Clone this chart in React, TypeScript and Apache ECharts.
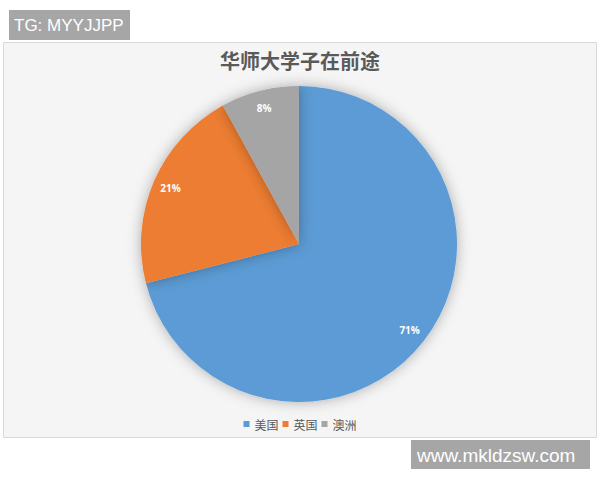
import { useEffect, useRef } from "react";
import * as echarts from "echarts";

const categories = ["美国", "英国", "澳洲"];
const shares = [71, 21, 8];
const sliceColors = ["#5B9BD5", "#ED7D31", "#A5A5A5"];

export default function App() {
  const chartRef = useRef<HTMLDivElement>(null);

  useEffect(() => {
    if (!chartRef.current) return;
    const chart = echarts.init(chartRef.current, null, { renderer: "svg" });

    const pieData = categories.map((name, i) => ({
      name,
      value: shares[i],
      itemStyle: { color: sliceColors[i] },
    }));

    chart.setOption({
      animation: false,
      backgroundColor: "#ffffff",
      title: {
        text: "华师大学子在前途",
        left: "center",
        top: 45,
        textStyle: {
          fontFamily: "Noto Sans CJK SC",
          fontSize: 20,
          fontWeight: 600,
          color: "#5a5a5a",
        },
      },
      legend: {
        data: categories,
        top: 413,
        left: "center",
        icon: "rect",
        itemWidth: 6,
        itemHeight: 6,
        itemGap: 4,
        textStyle: {
          fontFamily: "Noto Sans CJK SC",
          fontSize: 12,
          color: "#595959",
        },
      },
      graphic: [
        // chart frame
        {
          type: "rect",
          z: 0,
          shape: { x: 3.5, y: 42.5, width: 593, height: 395 },
          style: { fill: "#f5f5f5", stroke: "#d9d9d9", lineWidth: 1 },
        },
        // top-left tag
        {
          type: "rect",
          z: 0,
          shape: { x: 9, y: 10, width: 121, height: 30 },
          style: { fill: "#a6a6a6" },
        },
        {
          type: "text",
          z: 1,
          x: 14,
          y: 25,
          style: {
            text: "TG: MYYJJPP",
            fill: "#ffffff",
            font: "17px 'Liberation Sans'",
            verticalAlign: "middle",
          },
        },
        // bottom-right watermark
        {
          type: "rect",
          z: 0,
          shape: { x: 411, y: 440, width: 179, height: 29 },
          style: { fill: "#a6a6a6" },
        },
        {
          type: "text",
          z: 1,
          x: 417,
          y: 455,
          style: {
            text: "www.mkldzsw.com",
            fill: "#ffffff",
            font: "19px 'Liberation Sans'",
            verticalAlign: "middle",
          },
        },
      ],
      series: [
        {
          name: "前途",
          type: "pie",
          z: 2,
          center: [299, 244],
          radius: [0, 158],
          startAngle: 90,
          clockwise: true,
          silent: true,
          label: { show: false },
          labelLine: { show: false },
          itemStyle: {
            shadowBlur: 14,
            shadowColor: "rgba(0,0,0,0.3)",
          },
          data: pieData,
        },
        {
          // transparent overlay, only used to place the labels near the rim
          name: "labels",
          type: "pie",
          z: 3,
          center: [299, 244],
          radius: [0, 274],
          startAngle: 90,
          clockwise: true,
          silent: true,
          itemStyle: { color: "rgba(0,0,0,0)" },
          label: {
            show: true,
            position: "inside",
            formatter: (p: { value: number }) => `${p.value}%`,
            color: "#ffffff",
            fontFamily: "Open Sans",
            fontWeight: "bold",
            fontSize: 10,
          },
          labelLine: { show: false },
          emphasis: { disabled: true },
          data: categories.map((name, i) => ({ name, value: shares[i] })),
        },
      ],
    });

    return () => {
      chart.dispose();
    };
  }, []);

  return (
    <div
      ref={chartRef}
      style={{ position: "absolute", left: 0, top: 0, width: 600, height: 480 }}
    />
  );
}
